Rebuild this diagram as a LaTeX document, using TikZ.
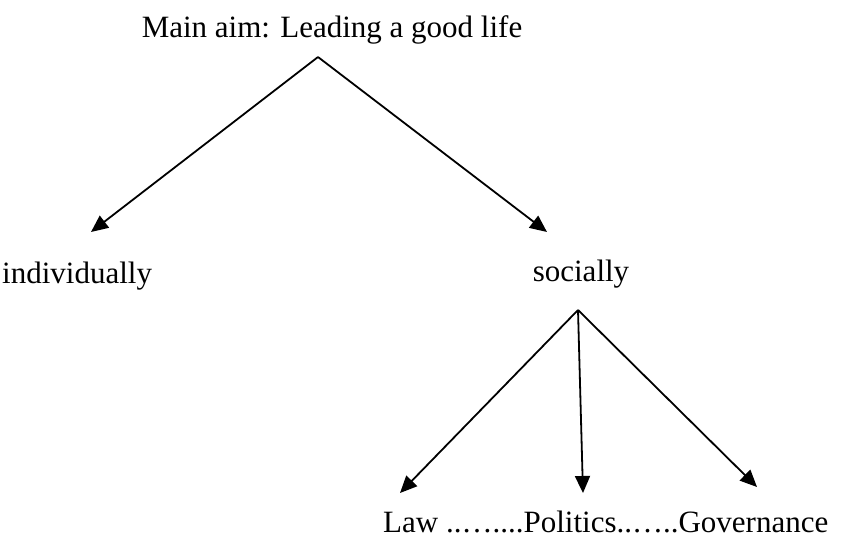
\documentclass[tikz,border=0pt]{standalone}
\usepackage{fontspec}
\setmainfont{Liberation Serif}
\usetikzlibrary{arrows.meta}
\tikzset{
  txt/.style={inner sep=0pt, font=\fontsize{31}{36}\selectfont},
  arr/.style={line width=1.8pt, -{Triangle[length=17pt,width=15pt]}},
}
\begin{document}
\begin{tikzpicture}[x=1pt,y=-1pt]
\useasboundingbox (0,0) rectangle (843,539);

\node[txt] (aim) at (332,30) {Main aim: Leading a good life};
\coordinate (top) at (318,57);
\coordinate (indtip) at (91,232);
\coordinate (soctip) at (547,232);
\draw[arr] (top) -- (indtip);
\draw[arr] (top) -- (soctip);

\node[txt, anchor=west] (ind) at (2,276) {individually};
\node[txt] (soc) at (581,274) {socially};

\coordinate (socbot) at (578,310);
\coordinate (lawtip) at (400,493);
\coordinate (poltip) at (583,493);
\coordinate (govtip) at (757,487);
\draw[arr] (socbot) -- (lawtip);
\draw[arr] (socbot) -- (poltip);
\draw[arr] (socbot) -- (govtip);

\node[txt, anchor=west] (bottom) at (383,522) {Law ..…....Politics..…..Governance};
\end{tikzpicture}
\end{document}
